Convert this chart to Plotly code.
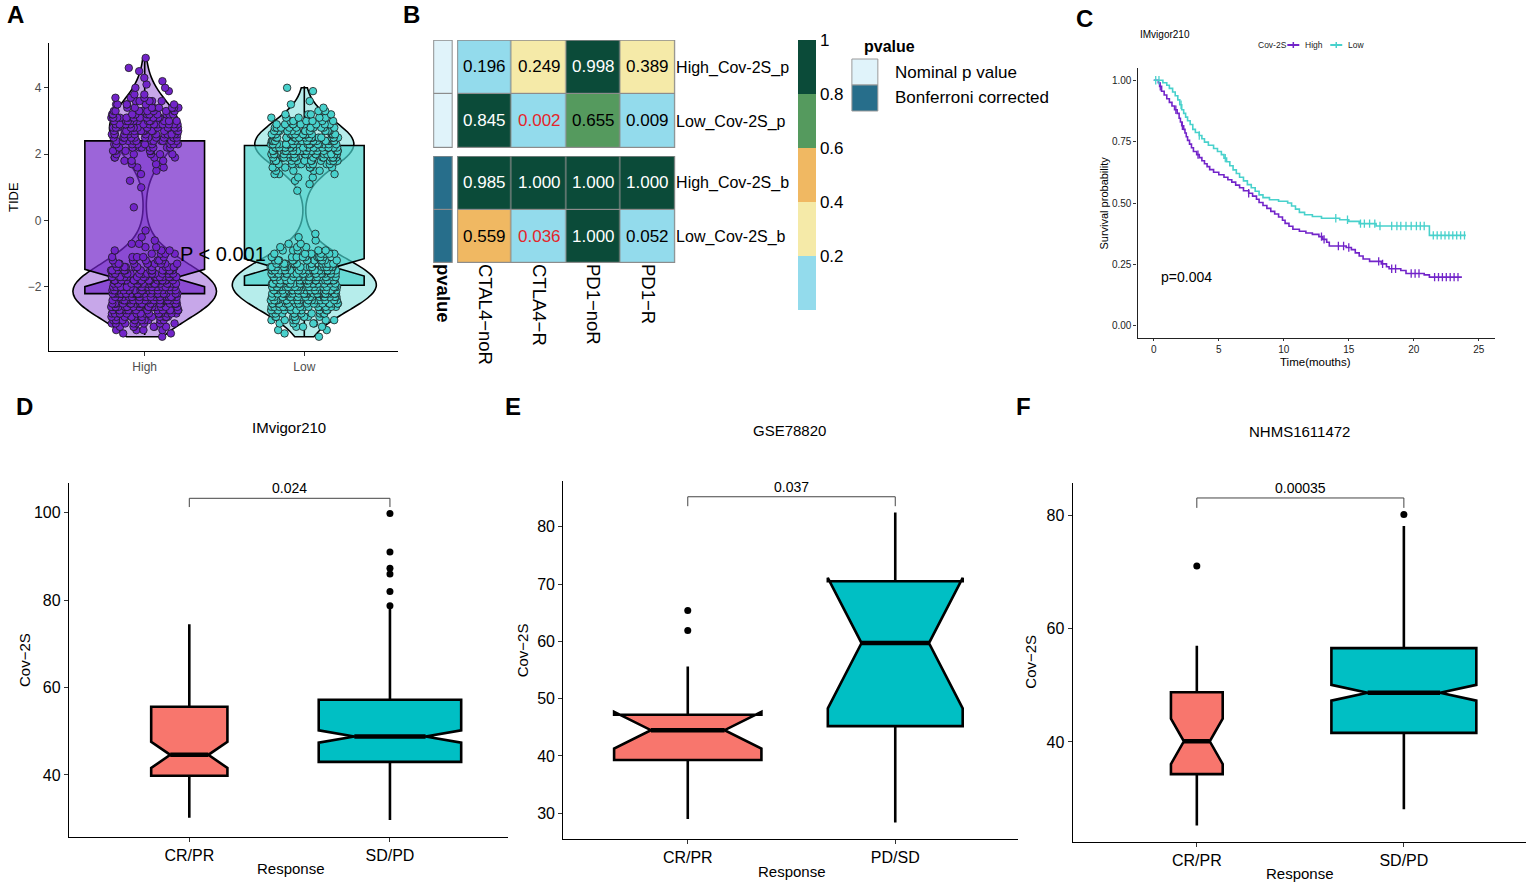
import numpy as np
import plotly.graph_objects as go

W, H = 1535, 888
FONT = "Liberation Sans"


def fx(p):
    return p / W


def fy(p):
    return 1 - p / H


# ---------------- Panel A : TIDE by Cov-2S group ----------------
a_groups = ["High", "Low"]
high_tide = [-3.5, -3.4, -3.3, -3.2, -3.1, -3.0, -2.9, -2.8, -2.7, -2.6,
             -2.5, -2.4, -2.3, -2.2, -2.1, -2.0, -1.9, -1.8, -1.7, -1.6,
             -1.5, -1.4, -1.3, -1.2, -1.1, -1.0, -0.9, -0.8, -0.7, -0.6,
             -0.5, -0.3,
             0.4, 1.0, 1.2,
             1.4, 1.5, 1.6, 1.7, 1.8, 1.9, 2.0, 2.1, 2.2, 2.3,
             2.4, 2.5, 2.6, 2.7, 2.8, 2.9, 3.0, 3.1, 3.2, 3.3,
             3.4, 3.5, 3.6, 3.7, 3.8, 3.9, 4.0, 4.1, 4.2, 4.3,
             4.5, 4.6, 4.9]
high_n = [1, 2, 4, 6, 8, 11, 13, 15, 17, 20,
          22, 24, 26, 27, 27, 27, 26, 24, 22, 19,
          16, 13, 10, 7, 5, 4, 3, 2, 2, 1,
          1, 1,
          1, 1, 1,
          1, 1, 2, 2, 3, 4, 5, 6, 8, 9,
          11, 12, 13, 14, 14, 14, 13, 12, 11, 9,
          8, 6, 5, 3, 2, 1, 2, 1, 1, 1,
          1, 1, 1]
low_tide = [-3.5, -3.4, -3.3, -3.2, -3.1, -3.0, -2.9, -2.8, -2.7, -2.6,
            -2.5, -2.4, -2.3, -2.2, -2.1, -2.0, -1.9, -1.8, -1.7, -1.6,
            -1.5, -1.4, -1.3, -1.2, -1.1, -1.0, -0.9, -0.8, -0.7, -0.6,
            -0.5, -0.4,
            0.9, 1.1, 1.2,
            1.3, 1.4, 1.5, 1.6, 1.7, 1.8, 1.9, 2.0, 2.1, 2.2,
            2.3, 2.4, 2.5, 2.6, 2.7, 2.8, 2.9, 3.0, 3.1, 3.2,
            3.3, 3.4, 3.5, 3.6,
            3.9, 4.0]
low_n = [1, 1, 2, 3, 4, 6, 8, 10, 13, 15,
         18, 21, 23, 25, 27, 28, 28, 28, 27, 25,
         22, 19, 16, 13, 10, 7, 5, 3, 2, 1,
         1, 1,
         1, 1, 1,
         2, 3, 4, 7, 9, 12, 15, 18, 20, 22,
         22, 22, 20, 18, 15, 12, 9, 7, 5, 4,
         3, 1, 1, 1,
         1, 1]
a_q1 = [-2.2, -1.95]
a_median = [-1.73, -1.41]
a_q3 = [2.4, 2.26]
a_lower = [-3.45, -3.5]
a_upper = [4.9, 4.05]
a_notch = [0.26, 0.26]
a_pvalue = "P < 0.001"
a_yticks = [-2, 0, 2, 4]

# ---------------- Panel B : heatmap of p values ----------------
b_cols = ["CTAL4\u2212noR", "CTLA4\u2212R", "PD1\u2212noR", "PD1\u2212R"]
b_rows_p = ["High_Cov-2S_p", "Low_Cov-2S_p"]
b_rows_b = ["High_Cov-2S_b", "Low_Cov-2S_b"]
b_vals_p = [[0.196, 0.249, 0.998, 0.389],
            [0.845, 0.002, 0.655, 0.009]]
b_vals_b = [[0.985, 1.000, 1.000, 1.000],
            [0.559, 0.036, 1.000, 0.052]]
b_red_p = [(1, 1)]
b_red_b = [(1, 1)]
b_legend_title = "pvalue"
b_legend_labels = ["Nominal p value", "Bonferroni corrected"]
b_cbar_ticks = [0.2, 0.4, 0.6, 0.8, 1.0]
b_cbar_text = ["0.2", "0.4", "0.6", "0.8", "1"]

# ---------------- Panel C : Kaplan-Meier ----------------
km_high_t = [0, 0.35, 0.45, 0.6, 0.8, 1.0, 1.2, 1.4, 1.6, 1.8,
             1.95, 2.05, 2.15, 2.3, 2.4, 2.5, 2.6, 2.75, 2.9, 3.05,
             3.3, 3.5, 3.7, 3.9, 4.1, 4.3, 4.6, 5.0, 5.4, 5.7,
             6.0, 6.3, 6.6, 6.9, 7.3, 7.6, 7.9, 8.1, 8.4, 8.7,
             9.0, 9.3, 9.6, 9.9, 10.1, 10.4, 10.7, 11.2, 11.7, 12.2,
             12.7, 13.0, 13.3, 13.5, 14.8, 15.2, 15.5, 15.8, 16.1, 16.6,
             17.5, 17.9, 18.1, 19.0, 19.4, 20.8, 21.2, 23.7]
km_high_s = [1.0, 0.99, 0.975, 0.955, 0.94, 0.925, 0.91, 0.895, 0.88, 0.865,
             0.845, 0.83, 0.815, 0.80, 0.785, 0.77, 0.755, 0.74, 0.725, 0.71,
             0.697, 0.685, 0.672, 0.66, 0.648, 0.636, 0.625, 0.615, 0.605, 0.595,
             0.585, 0.573, 0.562, 0.55, 0.54, 0.528, 0.515, 0.502, 0.49, 0.478,
             0.466, 0.455, 0.443, 0.43, 0.417, 0.405, 0.393, 0.385, 0.378, 0.372,
             0.363, 0.352, 0.34, 0.325, 0.319, 0.31, 0.297, 0.284, 0.272, 0.262,
             0.252, 0.24, 0.232, 0.225, 0.213, 0.207, 0.198, 0.198]
km_high_cens = [0.5, 1.7, 2.2, 3.4, 7.3, 12.9, 13.1, 14.2, 14.6, 15.0,
                17.3, 17.6, 18.3, 18.6, 19.8, 20.1, 20.4, 21.6, 21.9, 22.2,
                22.5, 22.8, 23.1, 23.4]
km_low_t = [0, 0.7, 1.0, 1.2, 1.45, 1.65, 1.85, 2.0, 2.15, 2.3,
            2.45, 2.6, 2.8, 3.0, 3.2, 3.5, 3.7, 3.9, 4.2, 4.6,
            4.9, 5.2, 5.4, 5.6, 5.85, 6.1, 6.35, 6.6, 6.9, 7.2,
            7.5, 7.8, 8.1, 8.4, 8.9, 9.6, 10.3, 10.6, 10.9, 11.2,
            11.6, 12.2, 12.9, 14.3, 15.0, 15.8, 17.1, 21.2, 24.0]
km_low_s = [1.0, 0.99, 0.98, 0.967, 0.952, 0.937, 0.92, 0.90, 0.88, 0.865,
            0.85, 0.835, 0.82, 0.80, 0.787, 0.775, 0.762, 0.748, 0.735, 0.722,
            0.71, 0.697, 0.683, 0.668, 0.652, 0.635, 0.62, 0.605, 0.59, 0.575,
            0.562, 0.548, 0.533, 0.522, 0.513, 0.507, 0.50, 0.488, 0.475, 0.462,
            0.452, 0.445, 0.438, 0.432, 0.425, 0.416, 0.406, 0.368, 0.368]
km_low_cens = [0.15, 0.4, 2.1, 3.5, 5.5, 14.0, 14.9, 15.9, 16.2, 16.6,
               17.0, 17.4, 18.3, 18.7, 19.0, 19.4, 19.8, 20.2, 20.5, 20.8,
               21.5, 21.8, 22.1, 22.4, 22.7, 23.0, 23.3, 23.6, 23.9]
c_title = "IMvigor210"
c_legend_title = "Cov-2S"
c_groups = ["High", "Low"]
c_xticks = [0, 5, 10, 15, 20, 25]
c_yticks = [0, 0.25, 0.5, 0.75, 1.0]
c_ytext = ["0.00", "0.25", "0.50", "0.75", "1.00"]
c_p = "p=0.004"

# ---------------- Panels D-F : notched boxplots ----------------
d_title = "IMvigor210"
d_groups = ["CR/PR", "SD/PD"]
d_q1 = [39.8, 43.0]
d_med = [44.6, 48.8]
d_q3 = [55.6, 57.2]
d_lo = [30.2, 29.7]
d_hi = [74.5, 78.0]
d_notch = [3.0, 1.4]
d_out = [[], [99.8, 91.0, 87.3, 86.0, 82.0, 78.7]]
d_p = "0.024"
d_bracket = [101.3, 103.3]
d_yticks = [40, 60, 80, 100]

e_title = "GSE78820"
e_groups = ["CR/PR", "PD/SD"]
e_q1 = [39.3, 45.2]
e_med = [44.5, 59.7]
e_q3 = [47.2, 70.5]
e_lo = [29.0, 28.4]
e_hi = [55.6, 82.5]
e_notch = [3.2, 11.4]
e_out = [[65.4, 61.9], []]
e_p = "0.037"
e_bracket = [83.6, 85.25]
e_yticks = [30, 40, 50, 60, 70, 80]

f_title = "NHMS1611472"
f_groups = ["CR/PR", "SD/PD"]
f_q1 = [34.3, 41.6]
f_med = [40.1, 48.7]
f_q3 = [48.8, 56.6]
f_lo = [25.2, 28.1]
f_hi = [57.0, 78.2]
f_notch = [4.0, 1.4]
f_out = [[71.1], [80.25]]
f_p = "0.00035"
f_bracket = [81.4, 83.15]
f_yticks = [40, 60, 80]

# ---------------- styles ----------------
PURPLE = (114, 36, 201)
TEAL = (72, 209, 204)
SALMON = "#F8766D"
CYAN = "#00BFC4"


def rgba(c, a):
    return "rgba(%d,%d,%d,%.2f)" % (c[0], c[1], c[2], a)


fig = go.Figure()
annos = []
shapes = []


def paper_text(x, y, text, size, xanchor="center", angle=0, color="black"):
    annos.append(dict(x=fx(x), y=fy(y), xref="paper", yref="paper", text=text,
                      xanchor=xanchor, yanchor="middle", textangle=angle,
                      showarrow=False, font=dict(size=size, color=color)))


def paper_line(x0, y0, x1, y1, color, width):
    shapes.append(dict(type="line", xref="paper", yref="paper", x0=fx(x0), y0=fy(y0),
                       x1=fx(x1), y1=fy(y1), line=dict(color=color, width=width)))


# ================= Panel A =================
a_colors = [PURPLE, TEAL]
a_raw = [np.repeat(high_tide, high_n), np.repeat(low_tide, low_n)]
a_bw = [0.59, 0.51]
for i, g in enumerate(a_groups):
    fig.add_trace(go.Violin(
        y=a_raw[i], x0=i, name=g, xaxis="x", yaxis="y",
        spanmode="hard", scalemode="width", width=0.9, bandwidth=a_bw[i],
        points=False, fillcolor=rgba(a_colors[i], 0.4),
        line=dict(color="black", width=1.6), showlegend=False,
        box=dict(visible=False), meanline=dict(visible=False)))
for i, g in enumerate(a_groups):
    fig.add_trace(go.Box(
        x=[i], q1=[a_q1[i]], median=[a_median[i]], q3=[a_q3[i]],
        lowerfence=[a_lower[i]], upperfence=[a_upper[i]],
        notched=True, notchspan=[a_notch[i]], notchwidth=0.25,
        width=0.75, whiskerwidth=0, boxpoints=False,
        fillcolor=rgba(a_colors[i], 0.7), line=dict(color="black", width=1.6),
        xaxis="x", yaxis="y", showlegend=False))
for i, g in enumerate(a_groups):
    fig.add_trace(go.Box(
        y=a_raw[i], x0=i, boxpoints="all", jitter=0.47, pointpos=0,
        width=0.9, fillcolor="rgba(0,0,0,0)", line=dict(color="rgba(0,0,0,0)", width=0),
        marker=dict(color=rgba(a_colors[i], 1), size=7.5,
                    line=dict(color="#1a1a1a", width=0.8)),
        xaxis="x", yaxis="y", showlegend=False, whiskerwidth=0))
annos.append(dict(x=0.49, y=-1.0, xref="x", yref="y", text=a_pvalue, showarrow=False,
                  xanchor="center", yanchor="middle", font=dict(size=20, color="black")))
paper_text(12, 197, "TIDE", 13, angle=-90)

# ================= Panel B =================
cs = [[0.0, "#93dbec"], [0.2, "#93dbec"], [0.2, "#f5eaa8"], [0.4, "#f5eaa8"],
      [0.4, "#f0b862"], [0.6, "#f0b862"], [0.6, "#559a5e"], [0.8, "#559a5e"],
      [0.8, "#0b4b39"], [1.0, "#0b4b39"]]
ann_cs = [[0.0, "#e0f3fa"], [1.0, "#276e8b"]]
for k, (vals, rows, yax, red, kind) in enumerate([
        (b_vals_p, b_rows_p, "y2", b_red_p, 0),
        (b_vals_b, b_rows_b, "y3", b_red_b, 1)]):
    cb = dict(x=fx(798), xanchor="left", y=fy(40), yanchor="top",
              len=270, lenmode="pixels", thickness=18, thicknessmode="pixels",
              tickvals=b_cbar_ticks, ticktext=b_cbar_text, ticks="",
              outlinewidth=0, xpad=0, ypad=0,
              tickfont=dict(size=17, color="black", family=FONT))
    fig.add_trace(go.Heatmap(
        z=vals, x=list(range(len(b_cols))), y=list(range(len(rows))),
        colorscale=cs, zmin=0, zmax=1, xgap=1.2, ygap=1.2,
        showscale=(k == 0), colorbar=cb if k == 0 else None,
        xaxis="x2", yaxis=yax, hoverinfo="skip"))
    fig.add_trace(go.Heatmap(
        z=[[kind] for _ in rows], x=[0], y=list(range(len(rows))),
        colorscale=ann_cs, zmin=0, zmax=1, ygap=1.2, showscale=False,
        xaxis="x3", yaxis=yax, hoverinfo="skip"))
    for ri in range(len(rows)):
        for ci in range(len(b_cols)):
            v = vals[ri][ci]
            if (ri, ci) in red:
                col = "#e3262b"
            elif v >= 0.8:
                col = "white"
            else:
                col = "black"
            annos.append(dict(x=ci, y=ri, xref="x2", yref=yax, text="%.3f" % v,
                              xanchor="center", yanchor="middle",
                              showarrow=False, font=dict(size=17, color=col)))
    for xr, x0, x1 in [("x2", -0.5, len(b_cols) - 0.5), ("x3", -0.5, 0.5)]:
        shapes.append(dict(type="rect", xref=xr, yref=yax, x0=x0, x1=x1,
                           y0=-0.5, y1=len(rows) - 0.5, fillcolor="#8c8c8c",
                           line=dict(color="#8c8c8c", width=1.5), layer="below"))
        shapes.append(dict(type="rect", xref=xr, yref=yax, x0=x0, x1=x1,
                           y0=-0.5, y1=len(rows) - 0.5, fillcolor="rgba(0,0,0,0)",
                           line=dict(color="#8c8c8c", width=1.5), layer="above"))

# legend for annotation column
paper_text(862, 47, "<b>%s</b>" % b_legend_title, 16, xanchor="left")
key_cols = ["#e0f3fa", "#276e8b"]
key_tops = [59, 85]
for j, lab in enumerate(b_legend_labels):
    shapes.append(dict(type="rect", xref="paper", yref="paper",
                       x0=fx(852), x1=fx(878), y0=fy(key_tops[j] + 26), y1=fy(key_tops[j]),
                       fillcolor=key_cols[j], line=dict(color="#9a9a9a", width=1)))
    paper_text(893, key_tops[j] + 13, lab, 17, xanchor="left")

# ================= Panel C =================
km_sets = [(km_high_t, km_high_s, km_high_cens, PURPLE),
           (km_low_t, km_low_s, km_low_cens, TEAL)]
for gi, (t, s, cens, colr) in enumerate(km_sets):
    fig.add_trace(go.Scatter(x=t, y=s, mode="lines", line=dict(color=rgba(colr, 1), width=1.6, shape="hv"),
                             xaxis="x4", yaxis="y4", showlegend=False, hoverinfo="skip"))
    idx = np.searchsorted(np.array(t), np.array(cens), side="right") - 1
    cy = [s[k] for k in idx]
    fig.add_trace(go.Scatter(x=cens, y=cy, mode="markers",
                             marker=dict(symbol="line-ns", size=6, line=dict(color=rgba(colr, 1), width=1.3)),
                             xaxis="x4", yaxis="y4", showlegend=False, hoverinfo="skip"))
annos.append(dict(x=0.4, y=0.2, xref="x4", yref="y4", xanchor="left", yanchor="middle", text=c_p,
                  showarrow=False, font=dict(size=14, color="black")))
paper_text(1138, 35, c_title, 10, xanchor="left")
paper_text(1104, 203, "Survival probability", 11, angle=-90)
paper_text(1316, 362, "Time(mouths)", 11.5)
# manual legend for the survival curves
paper_text(1257, 45, c_legend_title, 8.5, xanchor="left", color="#222")
leg_keys = [(1288, 1300, 1304), (1331, 1343, 1347)]
for gi, (k0, k1, tx) in enumerate(leg_keys):
    colr = rgba(km_sets[gi][3], 1)
    paper_line(k0, 45, k1, 45, colr, 2)
    paper_line((k0 + k1) / 2, 42, (k0 + k1) / 2, 48, colr, 1.5)
    paper_text(tx, 45, c_groups[gi], 8.5, xanchor="left", color="#222")

# ================= Panels D-F =================
box_panels = [
    ("5", d_groups, d_q1, d_med, d_q3, d_lo, d_hi, d_notch, d_out, d_p, d_bracket, [0.38, 0.71]),
    ("6", e_groups, e_q1, e_med, e_q3, e_lo, e_hi, e_notch, e_out, e_p, e_bracket, [0.71, 0.65]),
    ("7", f_groups, f_q1, f_med, f_q3, f_lo, f_hi, f_notch, f_out, f_p, f_bracket, [0.25, 0.70]),
]
fills = [SALMON, CYAN]
for (ax, grp, q1, med, q3, lo, hi, notch, outs, pv, br, widths) in box_panels:
    xa, ya = "x" + ax, "y" + ax
    for i in range(len(grp)):
        fig.add_trace(go.Box(
            x=[i], q1=[q1[i]], median=[med[i]], q3=[q3[i]],
            lowerfence=[lo[i]], upperfence=[hi[i]], notched=True,
            notchspan=[notch[i]], notchwidth=0.25, width=widths[i],
            whiskerwidth=0, boxpoints=False, fillcolor=fills[i],
            line=dict(color="black", width=2.6), xaxis=xa, yaxis=ya,
            showlegend=False, hoverinfo="skip"))
        w4 = widths[i] / 4
        fig.add_trace(go.Scatter(x=[i - w4, i + w4], y=[med[i], med[i]], mode="lines",
                                 line=dict(color="black", width=4.5), xaxis=xa, yaxis=ya,
                                 showlegend=False, hoverinfo="skip"))
        if outs[i]:
            fig.add_trace(go.Scatter(x=[i] * len(outs[i]), y=outs[i], mode="markers",
                                     marker=dict(color="black", size=7), xaxis=xa, yaxis=ya,
                                     showlegend=False, hoverinfo="skip"))
    fig.add_trace(go.Scatter(x=[0, 0, 1, 1], y=[br[0], br[1], br[1], br[0]], mode="lines",
                             line=dict(color="#444444", width=1), xaxis=xa, yaxis=ya,
                             showlegend=False, hoverinfo="skip"))
    annos.append(dict(x=0.5, y=br[1], xref=xa, yref=ya, xanchor="center", yanchor="bottom", text=pv,
                      showarrow=False, font=dict(size=14, color="black")))

# panel texts D-F
for (tx, ty, ttl) in [(288, 428, d_title), (790, 430, e_title), (1300, 431, f_title)]:
    paper_text(tx, ty, ttl, 15)
for (tx, ty) in [(23, 660), (522, 650), (1030, 662)]:
    paper_text(tx, ty, "Cov\u22122S", 15, angle=-90)
for (tx, ty) in [(290, 868), (792, 871), (1301, 873)]:
    paper_text(tx, ty, "Response", 15)

# panel letters
for (lab, lx, ly) in [("A", 15, 15), ("B", 411, 15), ("C", 1085, 18),
                      ("D", 24, 407), ("E", 513, 407), ("F", 1024, 407)]:
    paper_text(lx, ly, "<b>%s</b>" % lab, 24)


# ================= Axes =================
def base_axis(**kw):
    d = dict(showgrid=False, zeroline=False, showline=True, linecolor="black", linewidth=1.2,
             ticks="outside", ticklen=4, tickcolor="#333333", tickwidth=1.1)
    d.update(kw)
    return d


def heat_axis(**kw):
    d = dict(ticks="", showline=False, showgrid=False, zeroline=False,
             tickfont=dict(size=18.5, color="black"))
    d.update(kw)
    return d


layout_axes = dict(
    xaxis=base_axis(domain=[fx(48), fx(398)], range=[-0.6, 1.59], tickvals=[0, 1], ticktext=a_groups,
                    anchor="y", tickfont=dict(size=12, color="#4d4d4d")),
    yaxis=base_axis(domain=[fy(351), fy(43)], range=[-3.93, 5.35], tickvals=a_yticks,
                    anchor="x", tickfont=dict(size=12, color="#4d4d4d")),
    xaxis2=heat_axis(domain=[fx(457), fx(675)], range=[-0.5, len(b_cols) - 0.5], anchor="y3",
                     tickvals=list(range(len(b_cols))), ticktext=b_cols, tickangle=90),
    xaxis3=heat_axis(domain=[fx(433), fx(452)], range=[-0.5, 0.5], anchor="y3",
                     tickvals=[0], ticktext=["<b>%s</b>" % b_legend_title], tickangle=90),
    yaxis2=heat_axis(domain=[fy(148), fy(40)], range=[len(b_rows_p) - 0.5, -0.5], anchor="x2", side="right",
                     tickvals=list(range(len(b_rows_p))), ticktext=b_rows_p,
                     tickfont=dict(size=16, color="black")),
    yaxis3=heat_axis(domain=[fy(263), fy(156)], range=[len(b_rows_b) - 0.5, -0.5], anchor="x2", side="right",
                     tickvals=list(range(len(b_rows_b))), ticktext=b_rows_b,
                     tickfont=dict(size=16, color="black")),
    xaxis4=base_axis(domain=[fx(1138), fx(1496)], range=[-1.25, 26.25], tickvals=c_xticks,
                     anchor="y4", ticklen=2, linecolor="#222", tickfont=dict(size=10, color="#222")),
    yaxis4=base_axis(domain=[fy(338), fy(68)], range=[-0.05, 1.05], tickvals=c_yticks, ticktext=c_ytext,
                     anchor="x4", ticklen=3, linecolor="#222", tickfont=dict(size=10, color="#222")),
    xaxis5=base_axis(domain=[fx(68), fx(508)], range=[-0.6, 1.59], tickvals=[0, 1], ticktext=d_groups,
                     anchor="y5", tickfont=dict(size=16, color="black")),
    yaxis5=base_axis(domain=[fy(837), fy(483)], range=[25.8, 106.8], tickvals=d_yticks,
                     anchor="x5", tickfont=dict(size=16, color="black")),
    xaxis6=base_axis(domain=[fx(563), fx(1018)], range=[-0.6, 1.59], tickvals=[0, 1], ticktext=e_groups,
                     anchor="y6", tickfont=dict(size=16, color="black")),
    yaxis6=base_axis(domain=[fy(839), fy(481)], range=[25.5, 88.0], tickvals=e_yticks,
                     anchor="x6", tickfont=dict(size=16, color="black")),
    xaxis7=base_axis(domain=[fx(1073), fx(1527)], range=[-0.6, 1.59], tickvals=[0, 1], ticktext=f_groups,
                     anchor="y7", tickfont=dict(size=16, color="black")),
    yaxis7=base_axis(domain=[fy(842), fy(483)], range=[22.3, 85.8], tickvals=f_yticks,
                     anchor="x7", tickfont=dict(size=16, color="black")),
)

fig.update_layout(
    width=W, height=H, margin=dict(l=0, r=0, t=0, b=0),
    paper_bgcolor="white", plot_bgcolor="white",
    font=dict(family=FONT, color="black"),
    boxmode="overlay", violinmode="overlay", hovermode=False, showlegend=False,
    annotations=annos, shapes=shapes,
    **layout_axes,
)

fig.write_html("out.html", config={"displayModeBar": False},
               post_script="document.body.style.margin='0';")
